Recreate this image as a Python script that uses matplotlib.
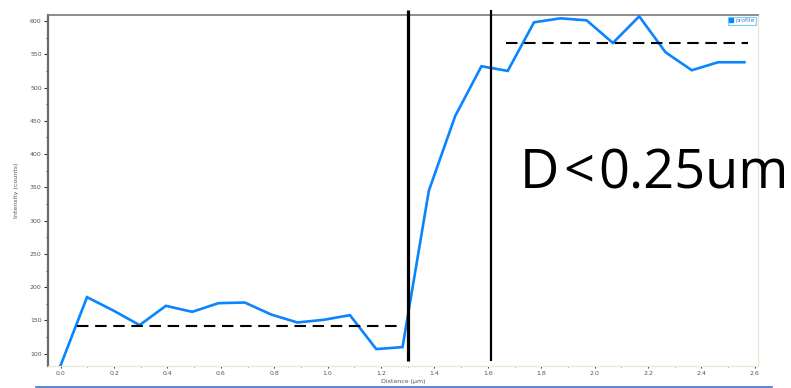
import matplotlib
matplotlib.use("Agg")
import matplotlib.pyplot as plt
from matplotlib.lines import Line2D
from matplotlib.ticker import MultipleLocator

# Line profile across the edge
distance = [0.0, 0.0985, 0.197, 0.2955, 0.394, 0.4925, 0.591, 0.6895, 0.788,
            0.8865, 0.985, 1.0835, 1.182, 1.2805, 1.379, 1.4775, 1.576, 1.6745,
            1.773, 1.8715, 1.97, 2.0685, 2.167, 2.2655, 2.364, 2.4625, 2.561]
intensity = [83, 185, 165, 143, 172, 163, 176, 177, 159, 147, 151, 158, 107, 110,
             345, 457, 532, 525, 598, 604, 601, 567, 607, 553, 526, 538, 538]

# Plateau levels (dashed) and edge markers (solid)
low_level_x = [0.061, 1.271]
low_level_y = 141
high_level_x = [1.668, 2.576]
high_level_y = 567
edge_x = [1.302, 1.611]
edge_widths = [2.3, 1.6]
annotation = "D<0.25um"

fig = plt.figure(figsize=(7.91, 3.88), dpi=100)
ax = fig.add_axes([48 / 791, 22 / 388, 710 / 791, 351 / 388])

ax.plot(distance, intensity, color="#0a84ff", lw=1.9, label="profile",
        solid_joinstyle="miter", zorder=3)
ax.plot(low_level_x, [low_level_y] * 2, color="black", lw=1.5,
        dashes=(5.5, 3.2), zorder=4)
ax.plot(high_level_x, [high_level_y] * 2, color="black", lw=1.5,
        dashes=(5.5, 3.2), zorder=4)
for xv, w in zip(edge_x, edge_widths):
    ax.plot([xv, xv], [616.5, 89.5], color="black", lw=w, clip_on=False,
            solid_capstyle="butt", zorder=5)

ax.set_xlim(-0.0476, 2.612)
ax.set_ylim(81.6, 609)
ax.xaxis.set_major_locator(MultipleLocator(0.2))
ax.xaxis.set_minor_locator(MultipleLocator(0.1))
ax.yaxis.set_major_locator(MultipleLocator(50))
ax.yaxis.set_minor_locator(MultipleLocator(25))

ax.tick_params(axis="both", which="both", labelsize=4.5, labelcolor="#555555",
               color="#333333")
ax.tick_params(axis="y", which="major", length=3, width=0.8, pad=1.5)
ax.tick_params(axis="y", which="minor", length=1.5, width=0.8)
ax.tick_params(axis="x", which="major", length=1.5, width=0.8, pad=2)
ax.tick_params(axis="x", which="minor", length=1, width=0.6)
ax.xaxis.set_major_formatter(matplotlib.ticker.FormatStrFormatter("%.1f"))

ax.spines["left"].set_color("#6b6b5e")
ax.spines["left"].set_linewidth(1.6)
ax.spines["top"].set_color("#7a7a70")
ax.spines["top"].set_linewidth(1.2)
ax.spines["right"].set_color("#ece8d6")
ax.spines["bottom"].set_color("#ece8d6")
ax.spines["right"].set_linewidth(1.0)
ax.spines["bottom"].set_linewidth(1.0)

ax.set_xlabel("Distance (µm)", fontsize=4.5, color="#555555", labelpad=2)
ax.set_ylabel("Intensity (counts)", fontsize=4.5, color="#555555", labelpad=8)

handle = Line2D([], [], marker="s", color="#0a84ff", ls="none", markersize=2.5)
leg = ax.legend([handle], ["profile"], loc="upper right", fontsize=4.4,
                frameon=True, fancybox=False, borderpad=0.2, handlelength=0.6,
                handletextpad=0.5, borderaxespad=0.3)
leg.get_frame().set_edgecolor("#5bc8f0")
leg.get_frame().set_linewidth(0.9)
for t in leg.get_texts():
    t.set_color("#4a7fd0")

# Large annotation, with the "<" set slightly apart like the original label
x0 = 520 / 791
base = (388 - 188) / 388
txt_kw = dict(fontsize=39, family="Open Sans", color="black",
              ha="left", va="baseline")
t1 = fig.text(x0, base, annotation[0], **txt_kw)
fig.canvas.draw()
r = fig.canvas.get_renderer()
w1 = t1.get_window_extent(r).width / 791
t2 = fig.text(x0 + w1 + 4 / 791, base, annotation[1], **txt_kw)
w2 = t2.get_window_extent(r).width / 791
fig.text(x0 + w1 + w2 + 8 / 791, base, annotation[2:], **txt_kw)

fig.add_artist(Line2D([36 / 791, 772 / 791], [1.2 / 388, 1.2 / 388],
                      color="#3b6fd6", lw=1.2))

fig.savefig("out.png", dpi=100)
